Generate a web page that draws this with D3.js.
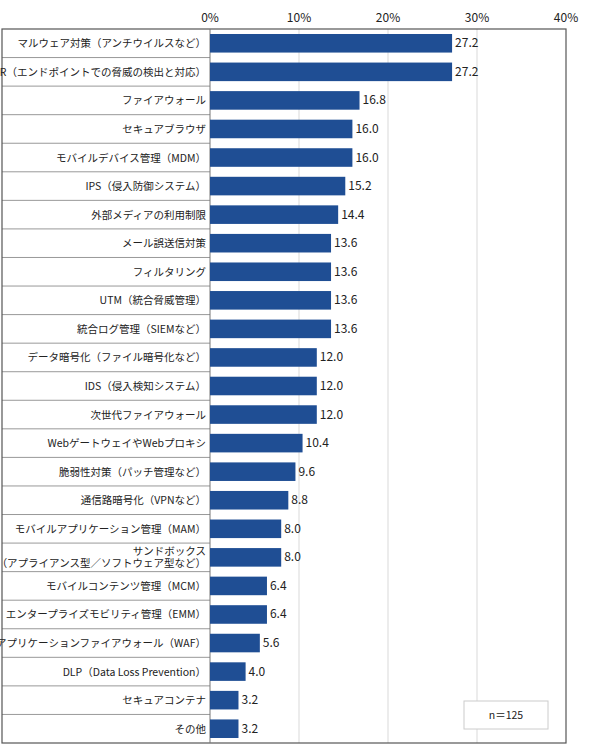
<!doctype html>
<html>
<head>
<meta charset="utf-8">
<style>
  body { margin: 0; background: #fff; }
  text { font-family: "Noto Sans CJK JP", sans-serif; fill: #222; }
</style>
</head>
<body>
<svg></svg>
<script src="https://cdnjs.cloudflare.com/ajax/libs/d3/7.8.5/d3.min.js"></script>
<script>
var categories = [
  "マルウェア対策（アンチウイルスなど）",
  "EDR（エンドポイントでの脅威の検出と対応）",
  "ファイアウォール",
  "セキュアブラウザ",
  "モバイルデバイス管理（MDM）",
  "IPS（侵入防御システム）",
  "外部メディアの利用制限",
  "メール誤送信対策",
  "フィルタリング",
  "UTM（統合脅威管理）",
  "統合ログ管理（SIEMなど）",
  "データ暗号化（ファイル暗号化など）",
  "IDS（侵入検知システム）",
  "次世代ファイアウォール",
  "WebゲートウェイやWebプロキシ",
  "脆弱性対策（パッチ管理など）",
  "通信路暗号化（VPNなど）",
  "モバイルアプリケーション管理（MAM）",
  "サンドボックス\n（アプライアンス型／ソフトウェア型など）",
  "モバイルコンテンツ管理（MCM）",
  "エンタープライズモビリティ管理（EMM）",
  "Webアプリケーションファイアウォール（WAF）",
  "DLP（Data Loss Prevention）",
  "セキュアコンテナ",
  "その他"
];
var values = [27.2, 27.2, 16.8, 16.0, 16.0, 15.2, 14.4, 13.6, 13.6, 13.6, 13.6, 12.0, 12.0, 12.0,
  10.4, 9.6, 8.8, 8.0, 8.0, 6.4, 6.4, 5.6, 4.0, 3.2, 3.2];
var ticks = [0, 10, 20, 30, 40];

var width = 590, height = 752;
var plotLeft = 210, plotRight = 566, plotTop = 29, plotBottom = 743, frameLeft = 2;

var svg = d3.select("svg").attr("width", width).attr("height", height);

var x = d3.scaleLinear().domain([0, 40]).range([plotLeft, plotRight]);
var y = d3.scaleBand().domain(d3.range(categories.length)).range([plotTop, plotBottom]).paddingInner(0.35).paddingOuter(0.175);
var row = d3.scaleBand().domain(d3.range(categories.length)).range([plotTop, plotBottom]);

// gridlines
svg.append("g").selectAll("line").data(ticks.slice(1, -1)).enter().append("line")
  .attr("x1", function(d) { return x(d); }).attr("x2", function(d) { return x(d); })
  .attr("y1", plotTop).attr("y2", plotBottom)
  .style("stroke", "#d9d9d9").style("stroke-width", 1);

// row separators in label column
svg.append("g").selectAll("line").data(d3.range(1, categories.length)).enter().append("line")
  .attr("x1", frameLeft).attr("x2", plotLeft)
  .attr("y1", function(d) { return row(d); }).attr("y2", function(d) { return row(d); })
  .style("stroke", "#999").style("stroke-width", 1);

// frame
svg.append("rect").attr("x", frameLeft).attr("y", plotTop).attr("width", plotRight - frameLeft).attr("height", plotBottom - plotTop)
  .style("fill", "none").style("stroke", "#555").style("stroke-width", 1.2);
svg.append("line").attr("x1", plotLeft).attr("x2", plotLeft).attr("y1", plotTop).attr("y2", plotBottom)
  .style("stroke", "#777");

// top tick labels
svg.append("g").selectAll("text").data(ticks).enter().append("text")
  .attr("x", function(d) { return x(d); }).attr("y", 22)
  .attr("text-anchor", "middle").style("font-size", "12px")
  .text(function(d) { return d + "%"; });

// bars
svg.append("g").selectAll("rect").data(values).enter().append("rect")
  .attr("x", x(0)).attr("y", function(d, i) { return y(i); })
  .attr("width", function(d) { return x(d) - x(0); }).attr("height", y.bandwidth())
  .style("fill", "#1f4e94");

// value labels
svg.append("g").selectAll("text").data(values).enter().append("text")
  .attr("x", function(d) { return x(d) + 3; })
  .attr("y", function(d, i) { return y(i) + y.bandwidth() / 2 + 4; })
  .style("font-size", "12px")
  .text(function(d) { return d.toFixed(1); });

// category labels
var labels = svg.append("g").selectAll("text").data(categories).enter().append("text")
  .attr("text-anchor", "end").style("font-size", "10.5px");
labels.each(function(d, i) {
  var lines = d.split("\n");
  var cy = row(i) + row.bandwidth() / 2;
  var t = d3.select(this);
  lines.forEach(function(l, j) {
    t.append("tspan").attr("x", plotLeft - 4)
      .attr("y", cy + 4 + (j - (lines.length - 1) / 2) * 12)
      .text(l);
  });
});

// n box
svg.append("rect").attr("x", 464).attr("y", 701).attr("width", 84).attr("height", 28)
  .style("fill", "#fff").style("stroke", "#ccc");
svg.append("text").attr("x", 506).attr("y", 719).attr("text-anchor", "middle")
  .style("font-size", "10.5px").text("n＝125");
</script>
</body>
</html>
